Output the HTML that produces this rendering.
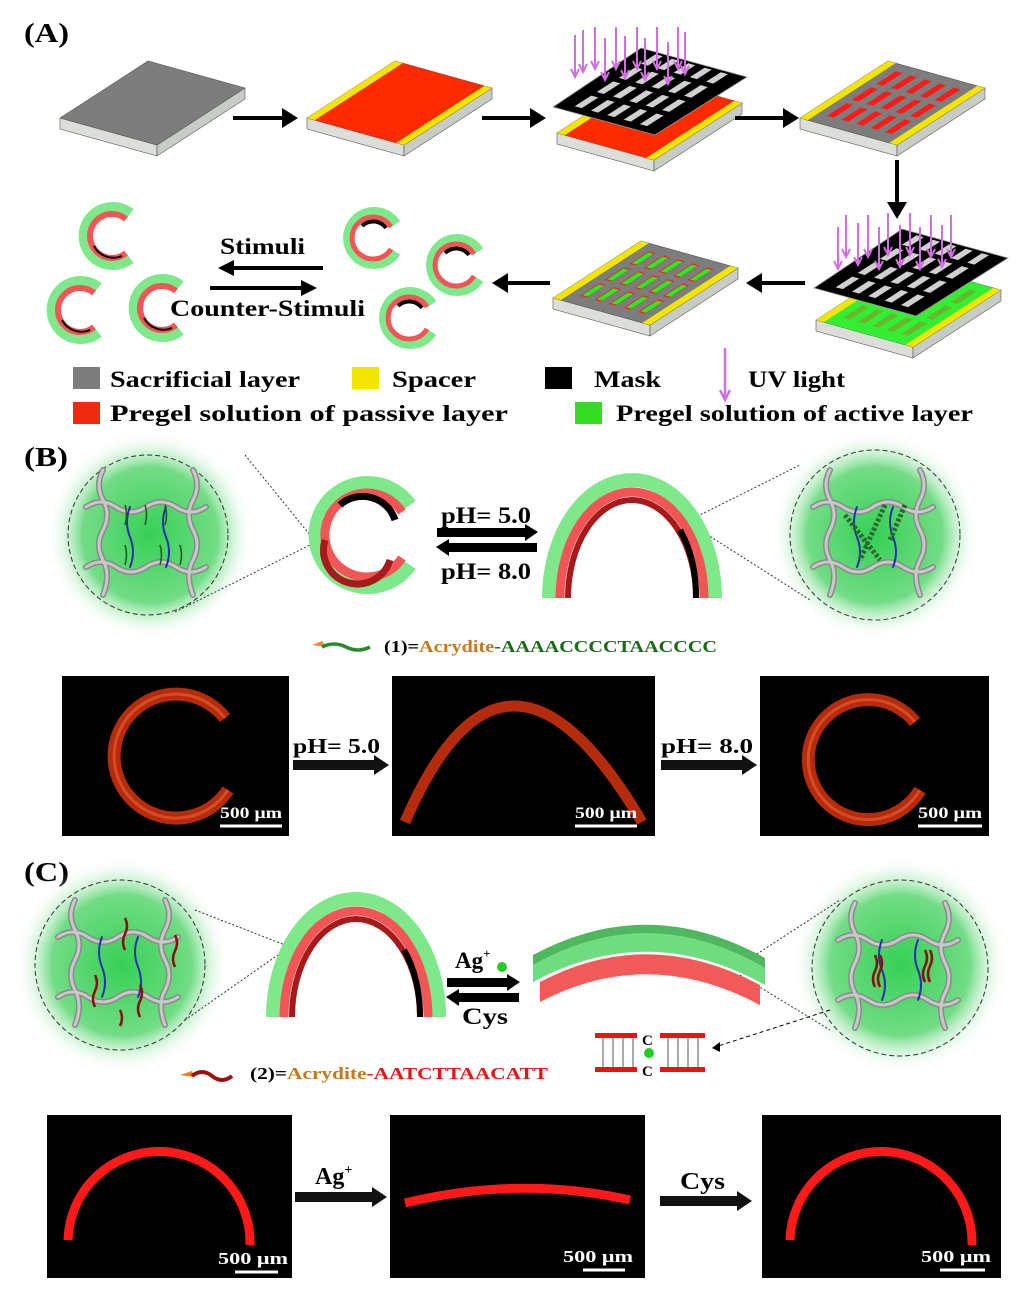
<!DOCTYPE html>
<html><head><meta charset="utf-8"><style>
html,body{margin:0;padding:0;background:#fff}
svg{display:block}
text{font-family:"Liberation Serif",serif;font-weight:bold}
</style></head><body>
<svg width="1036" height="1299" viewBox="0 0 1036 1299" xmlns="http://www.w3.org/2000/svg">
<defs>
<radialGradient id="glow"><stop offset="0" stop-color="#35d055"/><stop offset="0.65" stop-color="#72dc85"/><stop offset="1" stop-color="#fff" stop-opacity="0"/></radialGradient>
<g id="plate">
 <polygon points="0,0 97,27 97,38 0,11" fill="#dcdfd9" stroke="#555" stroke-width="0.6"/>
 <polygon points="97,27 185,-30 185,-19 97,38" fill="#c8ccc6" stroke="#555" stroke-width="0.6"/>
 <polygon points="0,0 97,27 185,-30 88,-57" fill="#7d7d7d" stroke="#555" stroke-width="0.6"/>
</g>
<g id="yel">
 <rect x="0" y="0" width="8" height="100" fill="#f2e600"/>
 <rect x="92" y="0" width="8" height="100" fill="#f2e600"/>
</g>
<g id="bars" fill="#ff1a1a">
 <rect x="17" y="12" width="7" height="22"/><rect x="32" y="12" width="7" height="22"/><rect x="47" y="12" width="7" height="22"/><rect x="62" y="12" width="7" height="22"/><rect x="77" y="12" width="7" height="22"/>
 <rect x="17" y="40" width="7" height="22"/><rect x="32" y="40" width="7" height="22"/><rect x="47" y="40" width="7" height="22"/><rect x="62" y="40" width="7" height="22"/><rect x="77" y="40" width="7" height="22"/>
 <rect x="17" y="68" width="7" height="22"/><rect x="32" y="68" width="7" height="22"/><rect x="47" y="68" width="7" height="22"/><rect x="62" y="68" width="7" height="22"/><rect x="77" y="68" width="7" height="22"/>
</g>
<g id="gbars">
 <use href="#bars"/>
 <g fill="#22ee22" transform="translate(1,1.5)">
 <rect x="17" y="12" width="5.5" height="19"/><rect x="32" y="12" width="5.5" height="19"/><rect x="47" y="12" width="5.5" height="19"/><rect x="62" y="12" width="5.5" height="19"/><rect x="77" y="12" width="5.5" height="19"/>
 <rect x="17" y="40" width="5.5" height="19"/><rect x="32" y="40" width="5.5" height="19"/><rect x="47" y="40" width="5.5" height="19"/><rect x="62" y="40" width="5.5" height="19"/><rect x="77" y="40" width="5.5" height="19"/>
 <rect x="17" y="68" width="5.5" height="19"/><rect x="32" y="68" width="5.5" height="19"/><rect x="47" y="68" width="5.5" height="19"/><rect x="62" y="68" width="5.5" height="19"/><rect x="77" y="68" width="5.5" height="19"/>
 </g>
</g>
<g id="mask">
 <polygon points="0,0 102,28 194,-30 88,-59" fill="#000" stroke="#999" stroke-width="0.8"/>
 <g transform="matrix(1.02,0.28,0.92,-0.59,0,0)" fill="#d0d0d0">
  <rect x="14" y="8" width="7" height="18"/><rect x="30" y="8" width="7" height="18"/><rect x="46" y="8" width="7" height="18"/><rect x="62" y="8" width="7" height="18"/><rect x="78" y="8" width="7" height="18"/>
  <rect x="14" y="32" width="7" height="18"/><rect x="30" y="32" width="7" height="18"/><rect x="46" y="32" width="7" height="18"/><rect x="62" y="32" width="7" height="18"/><rect x="78" y="32" width="7" height="18"/>
  <rect x="14" y="56" width="7" height="18"/><rect x="30" y="56" width="7" height="18"/><rect x="46" y="56" width="7" height="18"/><rect x="62" y="56" width="7" height="18"/><rect x="78" y="56" width="7" height="18"/>
  <rect x="14" y="80" width="7" height="16"/><rect x="30" y="80" width="7" height="16"/><rect x="46" y="80" width="7" height="16"/><rect x="62" y="80" width="7" height="16"/><rect x="78" y="80" width="7" height="16"/>
 </g>
</g>
<g id="uv" stroke="#d070e0" stroke-width="2" fill="none">
 <path d="M0,0 v40"/><path d="M-4,34 L0,42 L4,34" />
</g>
<g id="net" fill="none" stroke-linecap="round">
 <g stroke="#8a8a8a" stroke-width="6">
  <path d="M-62,-28 q15,-10 30,0 t30,0 t30,0 t30,0"/>
  <path d="M-62,32 q15,-10 30,0 t30,0 t30,0 t30,0"/>
  <path d="M-45,-65 q-8,15 0,30 t0,30 t0,30 t0,35"/>
  <path d="M45,-65 q8,15 0,30 t0,30 t0,30 t0,35"/>
 </g>
 <g stroke="#c8c8c8" stroke-width="3">
  <path d="M-62,-28 q15,-10 30,0 t30,0 t30,0 t30,0"/>
  <path d="M-62,32 q15,-10 30,0 t30,0 t30,0 t30,0"/>
  <path d="M-45,-65 q-8,15 0,30 t0,30 t0,30 t0,35"/>
  <path d="M45,-65 q8,15 0,30 t0,30 t0,30 t0,35"/>
 </g>
 <g stroke="#2233aa" stroke-width="2">
  <path d="M-18,-28 q-6,15 0,30 t0,30"/><path d="M18,-28 q-6,15 0,30 t0,30"/>
 </g>
</g>
</defs>

<!-- (A) -->
<text x="24" y="42" font-size="27" textLength="45" lengthAdjust="spacingAndGlyphs">(A)</text>
<use href="#plate" x="60" y="118"/>
<g transform="translate(307,118)"><use href="#plate"/>
 <g transform="matrix(0.97,0.27,0.88,-0.57,0,0)"><rect x="0" y="0" width="100" height="100" fill="#ff2a00"/><use href="#yel"/></g></g>
<g transform="translate(557,133)"><use href="#plate"/>
 <g transform="matrix(0.97,0.27,0.88,-0.57,0,0)"><rect x="0" y="0" width="100" height="100" fill="#ff2a00"/><use href="#yel"/></g></g>
<use href="#mask" x="553" y="107"/>
<g transform="translate(575,30)">
 <use href="#uv" x="0" y="5"/><use href="#uv" x="8" y="0"/><use href="#uv" x="20" y="-3"/><use href="#uv" x="30" y="8"/><use href="#uv" x="41" y="-3"/><use href="#uv" x="50" y="6"/><use href="#uv" x="62" y="-3"/><use href="#uv" x="70" y="8"/><use href="#uv" x="82" y="-3"/><use href="#uv" x="93" y="12"/><use href="#uv" x="103" y="-3"/><use href="#uv" x="110" y="2"/>
</g>
<g transform="translate(800,118)"><use href="#plate"/>
 <g transform="matrix(0.97,0.27,0.88,-0.57,0,0)"><use href="#yel"/><use href="#bars"/></g></g>
<g transform="translate(816,320)"><use href="#plate"/>
 <g transform="matrix(0.97,0.27,0.88,-0.57,0,0)"><rect x="0" y="0" width="100" height="100" fill="#33ee33"/><use href="#yel"/><g opacity="0.25"><use href="#bars"/></g></g></g>
<use href="#mask" x="814" y="288"/>
<g transform="translate(838,215)">
 <use href="#uv" x="0" y="12"/><use href="#uv" x="8" y="0"/><use href="#uv" x="20" y="8"/><use href="#uv" x="30" y="0"/><use href="#uv" x="41" y="12"/><use href="#uv" x="50" y="-2"/><use href="#uv" x="62" y="10"/><use href="#uv" x="72" y="-2"/><use href="#uv" x="82" y="12"/><use href="#uv" x="93" y="0"/><use href="#uv" x="104" y="10"/><use href="#uv" x="113" y="0"/>
</g>
<g transform="translate(553,298)"><use href="#plate"/>
 <g transform="matrix(0.97,0.27,0.88,-0.57,0,0)"><use href="#yel"/><use href="#gbars"/></g></g>

<g stroke="#000" stroke-width="4" fill="#000">
 <line x1="233" y1="118" x2="285" y2="118"/><polygon points="282,108 298,118 282,128" stroke="none"/>
 <line x1="482" y1="118" x2="533" y2="118"/><polygon points="530,108 546,118 530,128" stroke="none"/>
 <line x1="735" y1="118" x2="786" y2="118"/><polygon points="783,108 799,118 783,128" stroke="none"/>
 <line x1="897" y1="160" x2="897" y2="205"/><polygon points="887,202 897,219 907,202" stroke="none"/>
 <line x1="805" y1="283" x2="758" y2="283"/><polygon points="762,273 746,283 762,293" stroke="none"/>
 <line x1="550" y1="283" x2="504" y2="283"/><polygon points="508,273 492,283 508,293" stroke="none"/>
 <line x1="323" y1="268" x2="230" y2="268"/><polygon points="234,260 218,268 234,276" stroke="none"/>
 <line x1="210" y1="288" x2="305" y2="288"/><polygon points="301,280 317,288 301,296" stroke="none"/>
</g>
<text x="220" y="254" font-size="23" textLength="85" lengthAdjust="spacingAndGlyphs">Stimuli</text>
<text x="170" y="316" font-size="23" textLength="195" lengthAdjust="spacingAndGlyphs">Counter-Stimuli</text>

<g fill="none">
 <g transform="translate(112,236)"><path d="M18,-22 A28,28 0 1 0 18,22" stroke="#7ee88a" stroke-width="12"/><path d="M14,-17 A22,22 0 1 0 14,17" stroke="#f25555" stroke-width="6"/><path d="M-18,10 A22,22 0 0 0 10,20" stroke="#000" stroke-width="2"/></g>
 <g transform="translate(80,310)"><path d="M18,-22 A28,28 0 1 0 18,22" stroke="#7ee88a" stroke-width="12"/><path d="M14,-17 A22,22 0 1 0 14,17" stroke="#f25555" stroke-width="6"/><path d="M-18,10 A22,22 0 0 0 10,20" stroke="#000" stroke-width="2"/></g>
 <g transform="translate(162,308)"><path d="M18,-22 A28,28 0 1 0 18,22" stroke="#7ee88a" stroke-width="12"/><path d="M14,-17 A22,22 0 1 0 14,17" stroke="#f25555" stroke-width="6"/><path d="M-18,10 A22,22 0 0 0 10,20" stroke="#000" stroke-width="2"/></g>
 <g transform="translate(372,238)"><path d="M24,-14 A26,26 0 1 0 24,14" stroke="#7ee88a" stroke-width="10"/><path d="M19,-11 A21,21 0 1 0 19,11" stroke="#f25555" stroke-width="5"/><path d="M14,-10 A16,16 0 0 0 -10,-12" stroke="#000" stroke-width="4"/></g>
 <g transform="translate(455,265)"><path d="M24,-14 A26,26 0 1 0 24,14" stroke="#7ee88a" stroke-width="10"/><path d="M19,-11 A21,21 0 1 0 19,11" stroke="#f25555" stroke-width="5"/><path d="M14,-10 A16,16 0 0 0 -10,-12" stroke="#000" stroke-width="4"/></g>
 <g transform="translate(408,318)"><path d="M24,-14 A26,26 0 1 0 24,14" stroke="#7ee88a" stroke-width="10"/><path d="M19,-11 A21,21 0 1 0 19,11" stroke="#f25555" stroke-width="5"/><path d="M14,-10 A16,16 0 0 0 -10,-12" stroke="#000" stroke-width="4"/></g>
</g>

<rect x="73" y="367" width="27" height="22" fill="#7d7d7d"/>
<text x="110" y="387" font-size="23" textLength="190" lengthAdjust="spacingAndGlyphs">Sacrificial layer</text>
<rect x="352" y="367" width="27" height="22" fill="#f2e600"/>
<text x="392" y="387" font-size="23" textLength="84" lengthAdjust="spacingAndGlyphs">Spacer</text>
<rect x="545" y="367" width="27" height="22" fill="#000"/>
<text x="594" y="387" font-size="23" textLength="67" lengthAdjust="spacingAndGlyphs">Mask</text>
<g stroke="#d070e0" stroke-width="2.5" fill="none"><path d="M725,348 v50"/><path d="M720,390 L725,400 L730,390"/></g>
<text x="748" y="387" font-size="23" textLength="97" lengthAdjust="spacingAndGlyphs">UV light</text>
<rect x="73" y="402" width="27" height="22" fill="#ee2a10"/>
<text x="110" y="421" font-size="23" textLength="398" lengthAdjust="spacingAndGlyphs">Pregel solution of  passive layer</text>
<rect x="575" y="402" width="27" height="22" fill="#33dd22"/>
<text x="616" y="421" font-size="23" textLength="357" lengthAdjust="spacingAndGlyphs">Pregel solution of  active layer</text>

<!-- (B) -->
<text x="24" y="466" font-size="27" textLength="44" lengthAdjust="spacingAndGlyphs">(B)</text>
<circle cx="150" cy="535" r="104" fill="url(#glow)"/>
<circle cx="148" cy="535" r="80" fill="none" stroke="#333" stroke-dasharray="5,3"/>
<use href="#net" x="148" y="535"/>
<g stroke="#1a5a1a" stroke-width="1.5" fill="none"><path d="M125,505 q3,10 0,20"/><path d="M145,505 q3,10 0,20"/><path d="M165,505 q3,10 0,20"/><path d="M125,545 q3,10 0,20"/><path d="M160,545 q3,10 0,20"/><path d="M180,545 q3,10 0,20"/></g>
<circle cx="875" cy="535" r="104" fill="url(#glow)"/>
<circle cx="875" cy="535" r="85" fill="none" stroke="#333" stroke-dasharray="5,3"/>
<use href="#net" x="875" y="535"/>
<g stroke="#2a6a2a" stroke-width="5" stroke-dasharray="3,2" fill="none"><path d="M845,515 L880,560"/><path d="M885,505 L860,560"/><path d="M905,505 L890,540"/></g>
<g stroke="#333" stroke-dasharray="2,2" fill="none"><line x1="245" y1="455" x2="310" y2="535"/><line x1="175" y1="612" x2="310" y2="545"/><line x1="690" y1="520" x2="800" y2="465"/><line x1="700" y1="530" x2="810" y2="600"/></g>
<g fill="none">
 <path d="M410,505 A52,52 0 1 0 410,565" stroke="#7ee88a" stroke-width="14"/>
 <path d="M402,512 A42,42 0 1 0 402,558" stroke="#f25555" stroke-width="9"/>
 <path d="M395,520 A34,34 0 0 0 340,505" stroke="#000" stroke-width="7"/>
 <path d="M390,560 A32,32 0 0 1 325,540" stroke="#a51a1a" stroke-width="7"/>
</g>
<g fill="none">
 <path d="M549,598 A83,118 0 0 1 715,598" stroke="#7ee88a" stroke-width="14"/>
 <path d="M560,598 A72,106 0 0 1 704,598" stroke="#f25555" stroke-width="9"/>
 <path d="M568,598 A64,98 0 0 1 696,598" stroke="#a51a1a" stroke-width="6"/>
 <path d="M680,530 A64,98 0 0 1 696,598" stroke="#000" stroke-width="6"/>
</g>
<g fill="#000"><rect x="437" y="528" width="90" height="9"/><polygon points="525,524 538,532 525,541"/><rect x="447" y="543" width="90" height="9"/><polygon points="449,539 436,547 449,556"/></g>
<text x="441" y="523" font-size="23" textLength="90" lengthAdjust="spacingAndGlyphs">pH= 5.0</text>
<text x="441" y="579" font-size="23" textLength="90" lengthAdjust="spacingAndGlyphs">pH= 8.0</text>
<path d="M312,645 l10,-4 l4,6 z" fill="#f08a40"/>
<path d="M322,647 q12,-6 24,0 t24,0" stroke="#2a8a2a" stroke-width="3.5" fill="none"/>
<text x="384" y="652" font-size="17" textLength="333" lengthAdjust="spacingAndGlyphs"><tspan fill="#000">(1)=</tspan><tspan fill="#c87818">Acrydite</tspan><tspan fill="#1a6a1a">-AAAACCCCTAACCCC</tspan></text>

<rect x="62" y="676" width="227" height="160" fill="#000"/>
<rect x="392" y="676" width="263" height="160" fill="#000"/>
<rect x="760" y="676" width="229" height="160" fill="#000"/>
<g fill="none" stroke="#c8300e" stroke-width="13" opacity="0.9">
 <path d="M225,718 A62,62 0 1 0 228,790"/>
 <path d="M405,822 Q505,590 642,822" stroke-width="11"/>
 <path d="M915,722 A60,60 0 1 0 920,790"/>
</g>
<g fill="none" stroke="#ff6a3a" stroke-width="3" opacity="0.5"><path d="M225,718 A62,62 0 1 0 228,790"/><path d="M915,722 A60,60 0 1 0 920,790"/></g>
<g fill="#fff" font-size="16"><text x="220" y="818" textLength="62" lengthAdjust="spacingAndGlyphs">500 μm</text><text x="575" y="818" textLength="62" lengthAdjust="spacingAndGlyphs">500 μm</text><text x="918" y="818" textLength="64" lengthAdjust="spacingAndGlyphs">500 μm</text></g>
<g stroke="#fff" stroke-width="3"><line x1="220" y1="826" x2="282" y2="826"/><line x1="575" y1="826" x2="637" y2="826"/><line x1="918" y1="826" x2="982" y2="826"/></g>
<g fill="#111"><rect x="293" y="760" width="82" height="10"/><polygon points="374,755 389,765 374,775"/><rect x="661" y="760" width="82" height="10"/><polygon points="742,755 757,765 742,775"/></g>
<text x="293" y="753" font-size="21" textLength="87" lengthAdjust="spacingAndGlyphs">pH= 5.0</text>
<text x="661" y="753" font-size="21" textLength="92" lengthAdjust="spacingAndGlyphs">pH= 8.0</text>

<!-- (C) -->
<text x="24" y="881" font-size="27" textLength="45" lengthAdjust="spacingAndGlyphs">(C)</text>
<circle cx="122" cy="965" r="108" fill="url(#glow)"/>
<circle cx="120" cy="965" r="85" fill="none" stroke="#333" stroke-dasharray="5,3"/>
<use href="#net" x="120" y="965"/>
<g stroke="#8a1010" stroke-width="2.5" fill="none"><path d="M125,918 q4,8 0,16 t0,16"/><path d="M175,935 q4,8 0,16 t0,16"/><path d="M95,975 q4,8 0,16 t0,16"/><path d="M140,985 q4,8 0,16 t0,16"/><path d="M120,1010 q4,8 0,16"/></g>
<circle cx="900" cy="965" r="108" fill="url(#glow)"/>
<circle cx="900" cy="968" r="88" fill="none" stroke="#333" stroke-dasharray="5,3"/>
<use href="#net" x="900" y="968"/>
<g stroke="#8a1010" stroke-width="2.5" fill="none"><path d="M875,955 q4,8 0,16 t0,16"/><path d="M880,955 q4,8 0,16 t0,16"/><path d="M925,950 q4,8 0,16 t0,16"/><path d="M930,950 q4,8 0,16 t0,16"/></g>
<g stroke="#333" stroke-dasharray="2,2" fill="none"><line x1="195" y1="910" x2="285" y2="945"/><line x1="185" y1="1020" x2="285" y2="950"/><line x1="740" y1="965" x2="840" y2="900"/><line x1="740" y1="975" x2="830" y2="1030"/></g>
<g fill="none">
 <path d="M273,1017 A83,118 0 0 1 439,1017" stroke="#7ee88a" stroke-width="14"/>
 <path d="M284,1017 A72,106 0 0 1 428,1017" stroke="#f25555" stroke-width="9"/>
 <path d="M292,1017 A64,98 0 0 1 420,1017" stroke="#a51a1a" stroke-width="6"/>
 <path d="M404,950 A64,98 0 0 1 420,1017" stroke="#000" stroke-width="6"/>
</g>
<path d="M533,965 Q648,900 765,968 L765,985 Q648,920 533,982 Z" fill="#6fdc80"/>
<path d="M533,955 Q648,893 765,958 L765,968 Q648,900 533,965 Z" fill="#4fb85e"/>
<path d="M540,982 Q648,925 760,985 L760,1005 Q648,945 540,1002 Z" fill="#f25a5a"/>
<g fill="#000"><rect x="447" y="978" width="62" height="9"/><polygon points="507,974 520,982 507,991"/><rect x="457" y="993" width="62" height="9"/><polygon points="459,989 446,997 459,1006"/></g>
<text x="455" y="968" font-size="23">Ag<tspan font-size="13" dy="-10">+</tspan></text>
<circle cx="502" cy="967" r="5" fill="#22cc22"/>
<text x="462" y="1024" font-size="23" textLength="46" lengthAdjust="spacingAndGlyphs">Cys</text>
<g>
 <rect x="595" y="1033" width="42" height="5" fill="#ee1111"/><rect x="660" y="1033" width="45" height="5" fill="#ee1111"/>
 <rect x="595" y="1067" width="42" height="5" fill="#ee1111"/><rect x="660" y="1067" width="45" height="5" fill="#ee1111"/>
 <g stroke="#555" stroke-width="1"><line x1="603" y1="1038" x2="603" y2="1067"/><line x1="613" y1="1038" x2="613" y2="1067"/><line x1="623" y1="1038" x2="623" y2="1067"/><line x1="633" y1="1038" x2="633" y2="1067"/><line x1="668" y1="1038" x2="668" y2="1067"/><line x1="678" y1="1038" x2="678" y2="1067"/><line x1="688" y1="1038" x2="688" y2="1067"/><line x1="698" y1="1038" x2="698" y2="1067"/></g>
 <text x="642" y="1045" font-size="15">C</text><text x="642" y="1076" font-size="15">C</text>
 <circle cx="649" cy="1053" r="5" fill="#22cc22"/>
</g>
<path d="M830,1010 L712,1048" stroke="#000" stroke-dasharray="4,3" fill="none"/><polygon points="712,1048 720,1042 720,1052" fill="#000"/>
<path d="M180,1075 l12,-4 l2,6 z" fill="#f07a20"/>
<path d="M192,1076 q10,-8 20,0 t20,0" stroke="#a01010" stroke-width="4" fill="none"/>
<text x="250" y="1079" font-size="17" textLength="298" lengthAdjust="spacingAndGlyphs"><tspan fill="#000">(2)=</tspan><tspan fill="#c87818">Acrydite</tspan><tspan fill="#ee1111">-AATCTTAACATT</tspan></text>

<rect x="47" y="1115" width="245" height="163" fill="#000"/>
<rect x="390" y="1115" width="255" height="163" fill="#000"/>
<rect x="762" y="1115" width="239" height="163" fill="#000"/>
<g fill="none" stroke="#ff1a1a" stroke-width="9">
 <path d="M68,1240 A90,90 0 0 1 250,1245"/>
 <path d="M405,1203 Q520,1175 630,1200"/>
 <path d="M790,1240 A90,90 0 0 1 972,1245"/>
</g>
<g fill="#fff" font-size="17"><text x="218" y="1264" textLength="70" lengthAdjust="spacingAndGlyphs">500 μm</text><text x="563" y="1262" textLength="70" lengthAdjust="spacingAndGlyphs">500 μm</text><text x="921" y="1262" textLength="70" lengthAdjust="spacingAndGlyphs">500 μm</text></g>
<g stroke="#fff" stroke-width="3"><line x1="235" y1="1272" x2="278" y2="1272"/><line x1="583" y1="1270" x2="625" y2="1270"/><line x1="940" y1="1270" x2="985" y2="1270"/></g>
<g fill="#111"><rect x="295" y="1192" width="78" height="10"/><polygon points="372,1187 387,1197 372,1207"/><rect x="660" y="1196" width="78" height="10"/><polygon points="737,1191 752,1201 737,1211"/></g>
<text x="315" y="1184" font-size="24">Ag<tspan font-size="14" dy="-10">+</tspan></text>
<text x="680" y="1189" font-size="24" textLength="45" lengthAdjust="spacingAndGlyphs">Cys</text>
</svg>
</body></html>
